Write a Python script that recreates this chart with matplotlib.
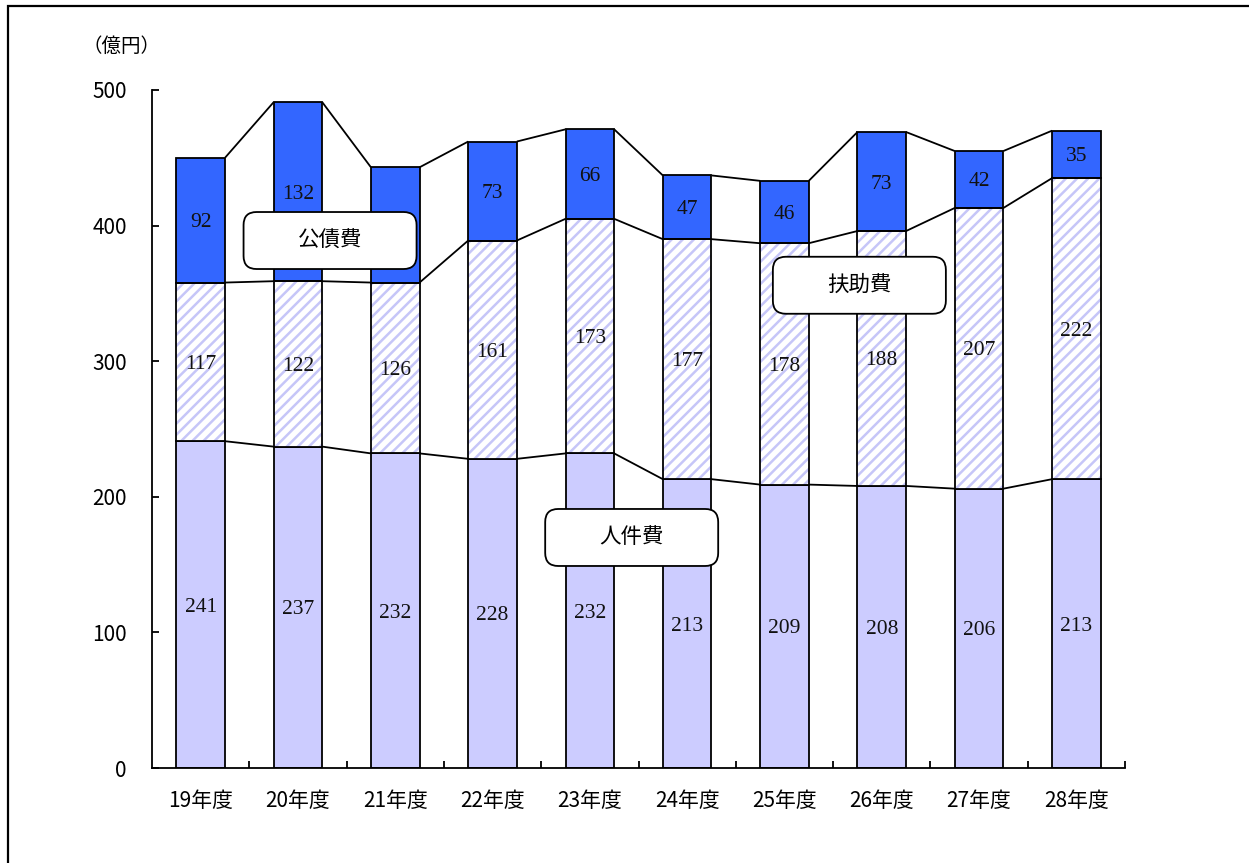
import matplotlib
matplotlib.use("Agg")
import matplotlib.pyplot as plt
from matplotlib.patches import FancyBboxPatch, Rectangle
import numpy as np

plt.rcParams['font.family'] = ['Noto Sans CJK JP', 'DejaVu Sans']

# 決算額（億円）
years = ["19年度", "20年度", "21年度", "22年度", "23年度",
         "24年度", "25年度", "26年度", "27年度", "28年度"]
personnel = [241, 237, 232, 228, 232, 213, 209, 208, 206, 213]   # 人件費
assistance = [117, 122, 126, 161, 173, 177, 178, 188, 207, 222]  # 扶助費
debt = [92, 132, 85, 73, 66, 47, 46, 73, 42, 35]                 # 公債費

COL_PERSONNEL = "#ccccff"
COL_HATCH = "#c6c6f8"
COL_DEBT = "#3366ff"

W, H, DPI = 1249, 863, 100
fig = plt.figure(figsize=(W / DPI, H / DPI), dpi=DPI)
ax_l, ax_r, ax_b, ax_t = 152 / W, 1125 / W, 1 - 768 / H, 1 - 90 / H
ax = fig.add_axes([ax_l, ax_b, ax_r - ax_l, ax_t - ax_b])

x = np.arange(len(years))
p = np.array(personnel)
a = np.array(assistance)
d = np.array(debt)
bw = 0.5
plt.rcParams['hatch.linewidth'] = 1.8

# 人件費
ax.bar(x, p, bw, color=COL_PERSONNEL, edgecolor="black", linewidth=1.3, zorder=2)
# 扶助費（斜線）
ax.bar(x, a, bw, bottom=p, color="white", edgecolor=COL_HATCH, hatch="///",
       linewidth=0, zorder=2)
ax.bar(x, a, bw, bottom=p, fill=False, edgecolor="black", linewidth=1.3, zorder=3)
# 公債費
ax.bar(x, d, bw, bottom=p + a, color=COL_DEBT, edgecolor="black", linewidth=1.3, zorder=2)

# 系列線
for level in (p, p + a, p + a + d):
    for i in range(len(x) - 1):
        ax.plot([x[i] + bw / 2, x[i + 1] - bw / 2], [level[i], level[i + 1]],
                color="black", linewidth=1.3, zorder=2, solid_capstyle="butt")

# データラベル
num_font = dict(family="Liberation Serif", fontsize=15.5, color="#111111",
                ha="center", va="center_baseline", zorder=5)
for i in x:
    ax.text(i, p[i] / 2, str(p[i]), **num_font)
    ax.text(i, p[i] + a[i] / 2, str(a[i]), **num_font)
    ax.text(i, p[i] + a[i] + d[i] / 2, str(d[i]), **num_font)

ax.set_xlim(-0.5, len(x) - 0.5)
ax.set_ylim(0, 500)
ax.set_yticks([0, 100, 200, 300, 400, 500])
ax.set_xticks(x)
ax.set_xticklabels(years)
ax.set_xticks(np.arange(0.5, len(x), 1.0), minor=True)
ax.tick_params(axis="x", which="major", length=0, pad=16, labelsize=15)
ax.tick_params(axis="x", which="minor", direction="in", length=5, width=1.3)
ax.tick_params(axis="y", direction="in", length=5, width=1.3, pad=18, labelsize=15)
for s in ("top", "right"):
    ax.spines[s].set_visible(False)
for s in ("left", "bottom"):
    ax.spines[s].set_linewidth(1.3)

fig.text(82 / W, 1 - 46 / H, "（億円）", fontsize=14, ha="left", va="center")

# 系列名の吹き出し
ax_w_px = (ax_r - ax_l) * W
ax_h_px = (ax_t - ax_b) * H
x_per_px = (len(x)) / ax_w_px
y_per_px = 500 / ax_h_px
aspect = y_per_px / x_per_px


def label_box(cx, cy, text):
    bw_d = 173 * x_per_px
    bh_d = 57 * y_per_px
    box = FancyBboxPatch((cx - bw_d / 2, cy - bh_d / 2), bw_d, bh_d,
                         boxstyle="round,pad=0,rounding_size=%f" % (13 * x_per_px),
                         mutation_aspect=aspect, facecolor="white",
                         edgecolor="black", linewidth=1.3, zorder=6)
    ax.add_patch(box)
    ax.text(cx, cy, text, fontsize=15.5, ha="center", va="center", zorder=7)


label_box(1.33, 389, "公債費")
label_box(6.77, 356, "扶助費")
label_box(4.43, 170, "人件費")

# 外枠
fig.patches.append(Rectangle((8 / W, -0.1), 1.2, 0.1 + (1 - 6 / H), fill=False,
                             edgecolor="black", linewidth=1.6,
                             transform=fig.transFigure, figure=fig))

fig.savefig("out.png", dpi=DPI)
